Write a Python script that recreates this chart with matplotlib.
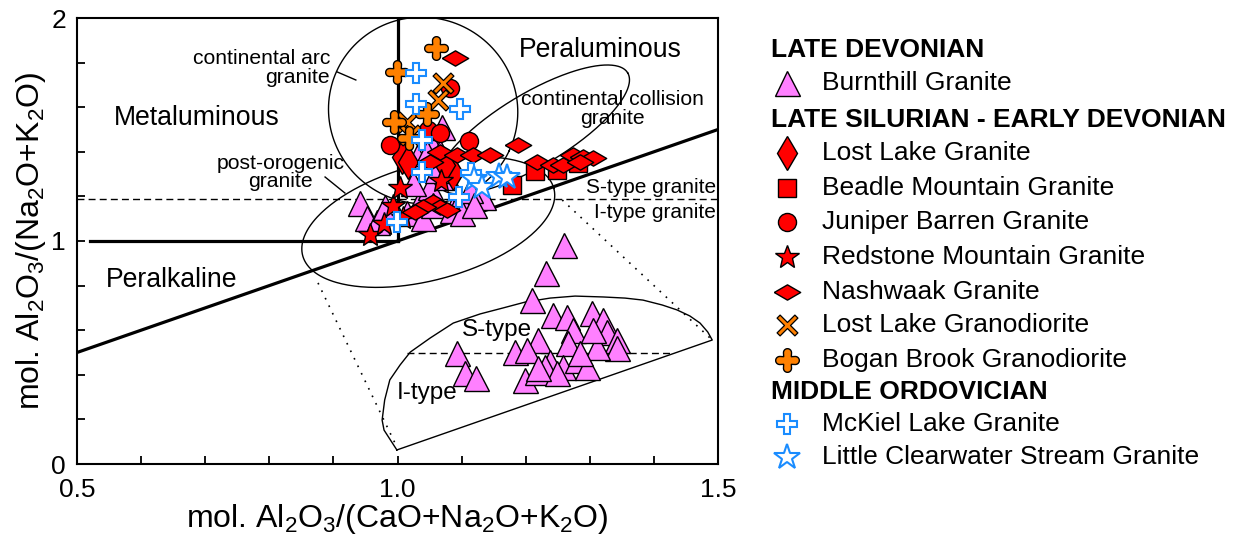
import numpy as np
import matplotlib
matplotlib.use("Agg")
import matplotlib.pyplot as plt
from matplotlib.path import Path

plt.rcParams['font.family'] = ['Liberation Sans', 'DejaVu Sans']
plt.rcParams['mathtext.fontset'] = 'custom'
plt.rcParams['mathtext.rm'] = 'Liberation Sans'
plt.rcParams['mathtext.it'] = 'Liberation Sans'

# ---------------- data (A/CNK, A/NK) ----------------
burnthill_x = [0.942, 0.952, 0.968, 1.015, 1.032, 1.040, 1.051, 1.055, 1.077, 1.085, 1.098, 1.101,
               1.133, 1.113, 1.024, 1.062, 1.055, 1.069, 1.030, 1.046, 1.066, 0.996, 0.980, 1.119]
burnthill_y = [1.170, 1.103, 1.085, 1.126, 1.161, 1.103, 1.242, 1.161, 1.287, 1.139, 1.184, 1.126,
               1.197, 1.229, 1.260, 1.318, 1.422, 1.511, 1.377, 1.394, 1.399, 1.130, 1.152, 1.161]
# Burnthill samples shown in the magnified S-/I-type inset
burnthill_inset_x = [1.260, 1.232, 1.210, 1.243, 1.264, 1.303, 1.321, 1.327, 1.342, 1.274, 1.219, 1.266,
                     1.183, 1.202, 1.093, 1.105, 1.122, 1.199, 1.238, 1.230, 1.258, 1.280, 1.296, 1.342,
                     1.311, 1.218, 1.249, 1.285, 1.305, 1.219]
burnthill_inset_y = [0.982, 0.857, 0.735, 0.668, 0.659, 0.677, 0.646, 0.592, 0.556, 0.601, 0.556, 0.543,
                     0.502, 0.511, 0.498, 0.408, 0.386, 0.377, 0.457, 0.435, 0.435, 0.466, 0.435, 0.520,
                     0.525, 0.413, 0.408, 0.498, 0.601, 0.430]
lostlake_x = [1.007, 1.016, 1.087, 1.074]
lostlake_y = [1.377, 1.354, 1.305, 1.341]
beadle_x = [1.179, 1.214, 1.249, 1.282]
beadle_y = [1.251, 1.314, 1.318, 1.350]
juniper_x = [1.082, 1.048, 1.066, 0.988, 1.112]
juniper_y = [1.686, 1.498, 1.484, 1.430, 1.448]
redstone_x = [0.957, 0.979, 0.993, 1.004, 1.068, 1.009]
redstone_y = [1.027, 1.076, 1.157, 1.238, 1.269, 1.103]
nashwaak_x = [1.090, 1.188, 1.066, 1.093, 1.118, 1.144, 1.051, 1.218, 1.243, 1.258, 1.274, 1.289,
              1.305, 1.285, 1.055, 1.066, 1.077, 1.040, 1.027]
nashwaak_y = [1.821, 1.430, 1.399, 1.386, 1.386, 1.386, 1.354, 1.354, 1.341, 1.341, 1.386, 1.377,
              1.372, 1.354, 1.175, 1.152, 1.139, 1.152, 1.130]
lostlake_gd_x = [1.071, 1.063, 1.015, 1.020]
lostlake_gd_y = [1.709, 1.632, 1.534, 1.475]
bogan_x = [1.060, 0.999, 1.046, 0.995, 1.018]
bogan_y = [1.865, 1.758, 1.570, 1.534, 1.462]
mckiel_x = [1.029, 1.029, 1.098, 1.038, 1.038, 1.115, 1.096, 0.999]
mckiel_y = [1.753, 1.614, 1.592, 1.453, 1.309, 1.305, 1.197, 1.085]
clearwater_x = [1.119, 1.132, 1.158, 1.171]
clearwater_y = [1.278, 1.242, 1.291, 1.287]

# inset (S-type / I-type field) outline
inset_x = [0.999, 0.979, 0.976, 0.980, 0.988, 1.004, 1.020, 1.051, 1.087, 1.129, 1.165, 1.199, 1.238,
           1.277, 1.321, 1.355, 1.383, 1.413, 1.436, 1.456, 1.472, 1.484, 1.491, 0.999]
inset_y = [0.063, 0.152, 0.197, 0.287, 0.377, 0.444, 0.502, 0.565, 0.632, 0.673, 0.700, 0.726, 0.744,
           0.753, 0.749, 0.744, 0.735, 0.713, 0.691, 0.664, 0.632, 0.592, 0.556, 0.063]

# ---------------- figure ----------------
W, H = 1233, 542
fig = plt.figure(figsize=(W / 100, H / 100), dpi=100)
ax = fig.add_axes([77 / W, (H - 464) / H, 641 / W, 446 / H])
ax.set_xlim(0.5, 1.5)
ax.set_ylim(0, 2)
PX_X = 641.0   # px per data unit x
PX_Y = 223.0   # px per data unit y

RED = '#ff0000'
ORANGE = '#ff8000'
PINK = '#ff80ff'
BLUE = '#1a8cff'

# boundary lines
ax.plot([0.5, 1.5], [0.5, 1.5], color='black', lw=2.3, zorder=3)
ax.plot([0.52, 1.0], [1.0, 1.0], color='black', lw=2.3, zorder=3)
ax.plot([1.0, 1.0], [1.0, 2.0], color='black', lw=2.3, zorder=3)
ax.plot([0.5, 1.5], [1.19, 1.19], color='black', lw=1.0, ls=(0, (5, 3)), zorder=2)


def ellipse(cx, cy, a, b, ang):
    t = np.linspace(0, 2 * np.pi, 300)
    th = np.deg2rad(ang)
    ex = a * np.cos(t) * np.cos(th) - b * np.sin(t) * np.sin(th)
    ey = a * np.cos(t) * np.sin(th) + b * np.sin(t) * np.cos(th)
    return cx + ex / PX_X, cy + ey / PX_Y


for (cx, cy, a, b, ang) in [(1.040, 1.585, 95, 93, -25),
                            (1.048, 1.085, 130, 58, 15),
                            (1.212, 1.500, 110, 36, 31)]:
    ex, ey = ellipse(cx, cy, a, b, ang)
    ax.plot(ex, ey, color='black', lw=1.0, zorder=2, clip_on=True)

# inset field
ax.plot(inset_x, inset_y, color='black', lw=1.0, zorder=2)
ax.plot([1.015, 1.430], [0.498, 0.498], color='black', lw=1.0, ls=(0, (5, 3)), zorder=2)
ax.plot([0.876, 0.999], [0.812, 0.076], color='black', lw=1.2, ls=(0, (1, 4)), zorder=2)
ax.plot([1.257, 1.491], [1.184, 0.556], color='black', lw=1.2, ls=(0, (1, 4)), zorder=2)

# labels
ax.text(0.687, 1.552, 'Metaluminous', fontsize=19.2, ha='center', va='center')
ax.text(1.316, 1.857, 'Peraluminous', fontsize=19.2, ha='center', va='center')
ax.text(0.648, 0.825, 'Peralkaline', fontsize=19.2, ha='center', va='center')
ax.text(0.895, 1.776, 'continental arc\ngranite', fontsize=15.2, ha='right', va='center',
        linespacing=0.95)
ax.plot([0.906, 0.935], [1.758, 1.722], color='black', lw=1.0)
ax.text(0.817, 1.307, 'post-orogenic\ngranite', fontsize=15.2, ha='center', va='center',
        linespacing=0.95)
ax.plot([0.887, 0.918], [1.287, 1.215], color='black', lw=1.0)
ax.text(1.335, 1.592, 'continental collision\ngranite', fontsize=15.2, ha='center', va='center',
        linespacing=0.95)
ax.text(1.497, 1.242, 'S-type granite', fontsize=15, ha='right', va='center')
ax.text(1.497, 1.130, 'I-type granite', fontsize=15, ha='right', va='center')
ax.text(1.155, 0.601, 'S-type', fontsize=17.5, ha='center', va='center')
ax.text(1.046, 0.318, 'I-type', fontsize=17.5, ha='center', va='center')


# rounded plus marker (Bogan Brook)
def rounded_plus(w=0.34, L=1.0, n=12):
    verts = []
    for k in range(4):
        th = k * np.pi / 2
        c = np.array([np.cos(th), np.sin(th)]) * (L - w)
        angs = np.linspace(th - np.pi / 2, th + np.pi / 2, n)
        for a_ in angs:
            verts.append(c + w * np.array([np.cos(a_), np.sin(a_)]))
        corner = np.array([w, w]) * 0.95
        rot = np.array([[np.cos(th), -np.sin(th)], [np.sin(th), np.cos(th)]])
        verts.append(rot @ corner)
    verts.append(verts[0])
    codes = [Path.MOVETO] + [Path.LINETO] * (len(verts) - 2) + [Path.CLOSEPOLY]
    return Path(np.array(verts), codes)


# thin-armed outlined X (Lost Lake Granodiorite)
def thin_x(w=0.17):
    pts = np.array([(w, w), (w, 1), (-w, 1), (-w, w), (-1, w), (-1, -w), (-w, -w),
                    (-w, -1), (w, -1), (w, -w), (1, -w), (1, w), (w, w)])
    c, s = np.cos(np.pi / 4), np.sin(np.pi / 4)
    pts = pts @ np.array([[c, s], [-s, c]])
    codes = [Path.MOVETO] + [Path.LINETO] * (len(pts) - 2) + [Path.CLOSEPOLY]
    return Path(pts, codes)


hdiam = [(-1, 0), (0, 0.58), (1, 0), (0, -0.58), (-1, 0)]
styles = {
    'burnthill': dict(marker='^', ms=18, mfc=PINK, mec='black', mew=1.0),
    'lostlake': dict(marker='d', ms=17, mfc=RED, mec='black', mew=1.0),
    'beadle': dict(marker='s', ms=13, mfc=RED, mec='black', mew=1.0),
    'juniper': dict(marker='o', ms=13, mfc=RED, mec='black', mew=1.0),
    'redstone': dict(marker='*', ms=18, mfc=RED, mec='black', mew=1.0),
    'nashwaak': dict(marker=hdiam, ms=19, mfc=RED, mec='black', mew=1.0),
    'lostlake_gd': dict(marker=thin_x(), ms=15, mfc=ORANGE, mec='black', mew=0.9),
    'bogan': dict(marker=rounded_plus(), ms=17, mfc=ORANGE, mec='black', mew=1.0),
    'mckiel': dict(marker='P', ms=15, mfc='white', mec=BLUE, mew=1.5),
    'clearwater': dict(marker='*', ms=19, mfc='white', mec=BLUE, mew=1.5),
}
series = [('burnthill', burnthill_x + burnthill_inset_x, burnthill_y + burnthill_inset_y),
          ('lostlake', lostlake_x, lostlake_y),
          ('beadle', beadle_x, beadle_y),
          ('juniper', juniper_x, juniper_y),
          ('redstone', redstone_x, redstone_y),
          ('nashwaak', nashwaak_x, nashwaak_y),
          ('lostlake_gd', lostlake_gd_x, lostlake_gd_y),
          ('bogan', bogan_x, bogan_y),
          ('mckiel', mckiel_x, mckiel_y),
          ('clearwater', clearwater_x, clearwater_y)]
for i, (key, xs, ys) in enumerate(series):
    ax.plot(xs, ys, ls='none', zorder=5 + i, **styles[key])

# axes styling
for s in ax.spines.values():
    s.set_linewidth(1.5)
ax.set_xticks([0.5, 1.0, 1.5])
ax.set_xticklabels(['0.5', '1.0', '1.5'])
ax.set_xticks(np.arange(0.6, 1.45, 0.1), minor=True)
ax.set_yticks([0, 1, 2])
ax.set_yticks([0.2, 0.4, 0.6, 0.8, 1.2, 1.4, 1.6, 1.8], minor=True)
ax.tick_params(which='both', direction='in', length=6, width=1.3, labelsize=19,
               top=False, right=False)
ax.tick_params(axis='x', pad=10)
ax.tick_params(axis='y', pad=8)
ax.set_xlabel(r'mol. Al$_2$O$_3$/(CaO+Na$_2$O+K$_2$O)', fontsize=23, labelpad=0)
ax.set_ylabel(r'mol. Al$_2$O$_3$/(Na$_2$O+K$_2$O)', fontsize=23, labelpad=2)

# ---------------- legend (pixel layout) ----------------
lg = fig.add_axes([0, 0, 1, 1], zorder=-1)
lg.set_xlim(0, W)
lg.set_ylim(H, 0)
lg.axis('off')
hx, mx, tx = 771, 787, 822
rows = [('h', 'LATE DEVONIAN', 50),
        ('burnthill', 'Burnthill Granite', 83),
        ('h', 'LATE SILURIAN - EARLY DEVONIAN', 120),
        ('lostlake', 'Lost Lake Granite', 153),
        ('beadle', 'Beadle Mountain Granite', 188),
        ('juniper', 'Juniper Barren Granite', 222),
        ('redstone', 'Redstone Mountain Granite', 257),
        ('nashwaak', 'Nashwaak Granite', 292),
        ('lostlake_gd', 'Lost Lake Granodiorite', 325),
        ('bogan', 'Bogan Brook Granodiorite', 360),
        ('h', 'MIDDLE ORDOVICIAN', 392),
        ('mckiel', 'McKiel Lake Granite', 424),
        ('clearwater', 'Little Clearwater Stream Granite', 457)]
for key, label, y in rows:
    if key == 'h':
        lg.text(hx, y, label, fontsize=19, fontweight='bold', ha='left', va='center')
    else:
        lg.plot([mx], [y], ls='none', **styles[key])
        lg.text(tx, y, label, fontsize=19, ha='left', va='center')

fig.savefig('out.png', dpi=100)
